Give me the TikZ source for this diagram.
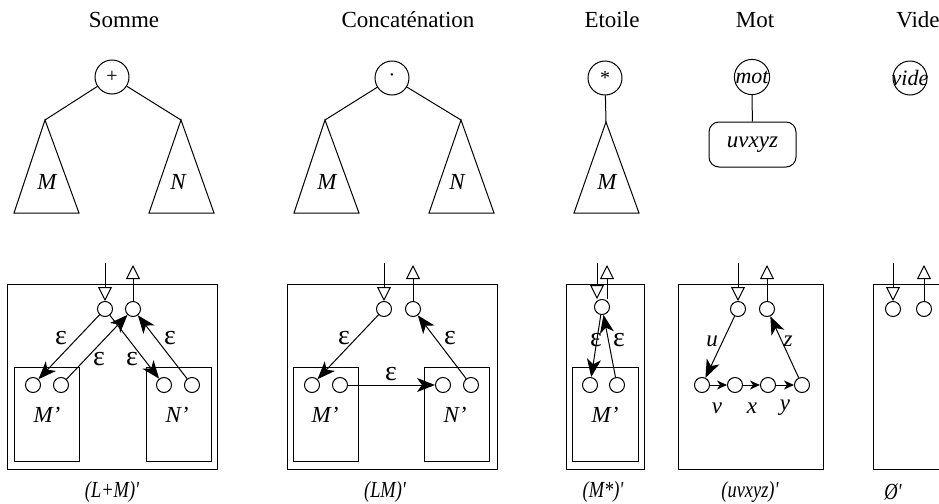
\documentclass[tikz,border=0pt]{standalone}
\usepackage{fontspec}
\setmainfont{Liberation Serif}
\newfontfamily\legendefont[FakeStretch=0.8]{Liberation Serif}
\usetikzlibrary{arrows.meta}
\usetikzlibrary{positioning}
\tikzstyle{titre}=[font=\fontsize{11.5}{13}\selectfont]
\tikzstyle{op}=[draw, circle, minimum size=17pt, inner sep=0pt,
font=\fontsize{10}{12}\selectfont]
\tikzstyle{etat}=[draw, circle, minimum size=7.5pt, inner sep=0pt]
\tikzstyle{lab}=[font=\fontsize{11.5}{13}\selectfont\itshape, inner sep=0pt]
\tikzstyle{eps}=[font=\fontsize{14}{16}\selectfont, inner sep=0pt]
\tikzstyle{legende}=[font=\fontsize{11.5}{13}\legendefont\itshape]
\tikzstyle{fleche}=[-{Stealth[length=9pt,width=7pt,inset=2.5pt]}]
\tikzstyle{petite}=[-{Stealth[length=5pt,width=4.5pt,inset=1.5pt]}]
\tikzstyle{entree}=[-{Triangle[open,length=7pt,width=7pt]}]

\begin{document}
\begin{tikzpicture}[x=0.5pt, y=-0.5pt, line width=0.5pt]
    \useasboundingbox (0,0) rectangle (939,504);

    % arbres
    \node[titre] (tSomme) at (124,20) {Somme};
    \node[titre] (tConc) at (408,20) {Concaténation};
    \node[titre] (tEtoile) at (612,20) {Etoile};
    \node[titre] (tMot) at (755,20) {Mot};
    \node[titre] (tVide) at (918,20) {Vide};

    \node[op] (plus) at (112,77) {+};
    \coordinate (sM) at (45,120);
    \coordinate (sN) at (181,120);
    \draw (sM) -- (14,213) -- (79,213) -- cycle;
    \draw (sN) -- (149,213) -- (214,213) -- cycle;
    \node[lab] (aM) at (47,182) {M};
    \node[lab] (aN) at (178,182) {N};
    \draw (plus) -- (sM);
    \draw (plus) -- (sN);

    \node[op] (point) at (392,78) {·};
    \coordinate (cM) at (325,120);
    \coordinate (cN) at (461,120);
    \draw (cM) -- (294,213) -- (359,213) -- cycle;
    \draw (cN) -- (429,213) -- (494,213) -- cycle;
    \node[lab] (bM) at (327,182) {M};
    \node[lab] (bN) at (457,182) {N};
    \draw (point) -- (cM);
    \draw (point) -- (cN);

    \node[op] (etoile) at (605,78) {*};
    \coordinate (eM) at (606,122);
    \draw (eM) -- (574,213) -- (639,213) -- cycle;
    \node[lab] (dM) at (607,182) {M};
    \draw (etoile) -- (eM);

    \node[op, font=\fontsize{11}{12}\selectfont\itshape] (mot) at (752,77) {mot};
    \node[draw, rounded corners=5pt, minimum width=43.5pt, minimum height=22.5pt,
        lab] (uvxyz) at (752.5,144.5) {uvxyz};
    \draw (mot) -- (uvxyz);

    \node[op, font=\fontsize{11}{12}\selectfont\itshape, inner sep=-2pt] (vide) at (910,78) {vide};

    % automates
    \draw (7,284) rectangle (217,469);
    \draw (14,367) rectangle (79,461);
    \draw (146,367) rectangle (211,461);
    \node[etat] (iS) at (105,309) {};
    \node[etat] (oS) at (133,309) {};
    \node[etat] (iSM) at (33,385) {};
    \node[etat] (oSM) at (61,385) {};
    \node[etat] (iSN) at (164,385) {};
    \node[etat] (oSN) at (192,385) {};
    \node[lab] (lSM) at (47,415) {M'};
    \node[lab] (lSN) at (177,415) {N'};
    \coordinate (inS) at (105,263);
    \coordinate (outS) at (133,265);
    \draw[entree] (inS) -- (iS);
    \draw[entree] (oS) -- (outS);
    \draw[fleche] (iS) -- (iSM);
    \draw[fleche] (iS) -- (iSN);
    \draw[fleche] (oSM) -- (oS);
    \draw[fleche] (oSN) -- (oS);
    \node[eps] (e1) at (61,338) {ε};
    \node[eps] (e2) at (99,359) {ε};
    \node[eps] (e3) at (132,359) {ε};
    \node[eps] (e4) at (170,338) {ε};
    \node[legende] (cS) at (112,492) {(L+M)'};

    \draw (287,284) rectangle (497,469);
    \draw (293,367) rectangle (358,461);
    \draw (424,367) rectangle (489,461);
    \node[etat] (iC) at (384,309) {};
    \node[etat] (oC) at (413,309) {};
    \node[etat] (iCM) at (312,385) {};
    \node[etat] (oCM) at (340,385) {};
    \node[etat] (iCN) at (443,385) {};
    \node[etat] (oCN) at (471,385) {};
    \node[lab] (lCM) at (325,415) {M'};
    \node[lab] (lCN) at (455,415) {N'};
    \coordinate (inC) at (384,263);
    \coordinate (outC) at (413,265);
    \draw[entree] (inC) -- (iC);
    \draw[entree] (oC) -- (outC);
    \draw[fleche] (iC) -- (iCM);
    \draw[fleche] (oCM) -- (iCN);
    \draw[fleche] (oCN) -- (oC);
    \node[eps] (e5) at (344,338) {ε};
    \node[eps] (e6) at (391,374) {ε};
    \node[eps] (e7) at (450,338) {ε};
    \node[legende] (cC) at (385,492) {(LM)'};

    \draw (566,284) rectangle (644,469);
    \draw (572,367) rectangle (638,461);
    \node[etat] (iE) at (602,307) {};
    \node[etat] (iEM) at (590,385) {};
    \node[etat] (oEM) at (617,385) {};
    \node[lab] (lEM) at (605,415) {M'};
    \coordinate (inE) at (597,263);
    \coordinate (outE) at (607,265);
    \draw[entree] (inE) -- (inE |- iE.north);
    \draw[entree] (outE |- iE.north) -- (outE);
    \draw[fleche] (iE) -- (iEM);
    \draw[fleche] (oEM) -- (iE);
    \node[eps] (e8) at (596,340) {ε};
    \node[eps] (e9) at (619,340) {ε};
    \node[legende] (cE) at (603,492) {(M*)'};

    \draw (678,284) rectangle (823,469);
    \node[etat] (iW) at (738,309) {};
    \node[etat] (oW) at (767,309) {};
    \node[etat] (w1) at (702,385) {};
    \node[etat] (w2) at (735,385) {};
    \node[etat] (w3) at (768,385) {};
    \node[etat] (w4) at (802,385) {};
    \coordinate (inW) at (738,263);
    \coordinate (outW) at (767,265);
    \draw[entree] (inW) -- (iW);
    \draw[entree] (oW) -- (outW);
    \draw[fleche] (iW) -- (w1);
    \draw[petite] (w1) -- (w2);
    \draw[petite] (w2) -- (w3);
    \draw[petite] (w3) -- (w4);
    \draw[fleche] (w4) -- (oW);
    \node[lab] (lu) at (712,341) {u};
    \node[lab] (lz) at (788,341) {z};
    \node[lab] (lv) at (717,408) {v};
    \node[lab] (lx) at (752,408) {x};
    \node[lab] (ly) at (785,408) {y};
    \node[legende] (cW) at (750,492) {(uvxyz)'};

    \draw (873,284) rectangle (950,469);
    \node[etat] (iV) at (893,309) {};
    \node[etat] (oV) at (924,309) {};
    \coordinate (inV) at (893,263);
    \coordinate (outV) at (924,265);
    \draw[entree] (inV) -- (iV);
    \draw[entree] (oV) -- (outV);
    \node[legende] (cV) at (893,492) {Ø'};
\end{tikzpicture}
\end{document}
